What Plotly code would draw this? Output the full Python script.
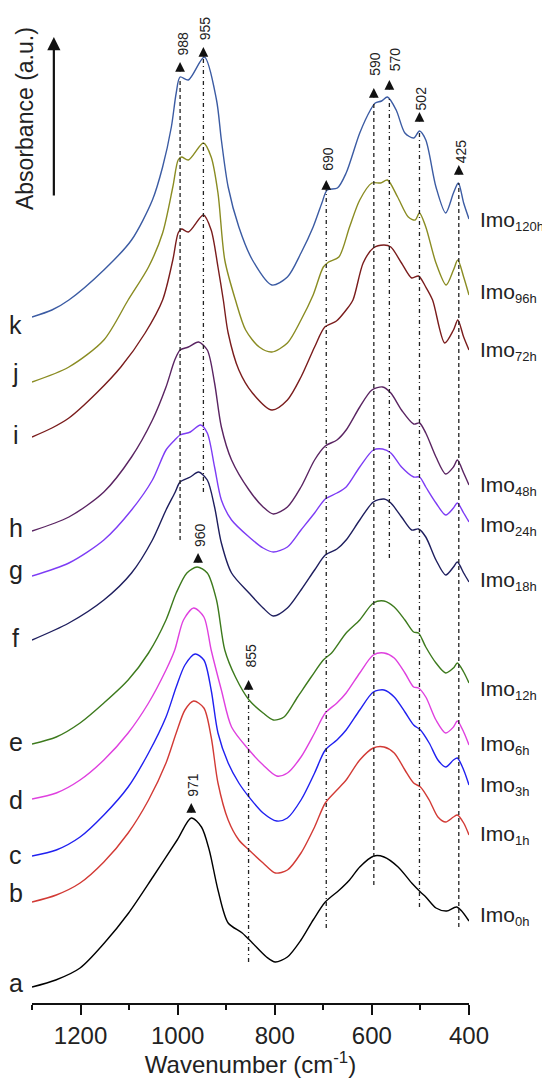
import plotly.graph_objects as go

# ---------------- data (wavenumber in cm-1, stacked absorbance in a.u.) ----------------
wn_a = [1300,1251,1201,1151,1101,1051,1001,972,951,935,917,896,867,846,817,799,774,746,721,696,667,646,625,596,575,546,518,500,489,468,446,425,400]
ab_a = [0.16,0.23,0.35,0.60,0.90,1.26,1.63,1.85,1.76,1.53,1.13,0.80,0.70,0.60,0.46,0.41,0.46,0.63,0.83,1.01,1.13,1.23,1.36,1.47,1.46,1.36,1.20,1.11,1.06,0.95,0.92,0.96,0.82]

wn_b = [1300,1250,1201,1152,1102,1060,1024,1003,985,967,946,931,917,896,874,853,824,799,774,746,718,696,672,653,625,597,575,554,532,514,500,482,464,448,432,424,411,400]
ab_b = [1.01,1.08,1.20,1.41,1.70,2.03,2.40,2.70,2.93,3.02,2.95,2.66,2.20,1.83,1.63,1.53,1.40,1.30,1.33,1.50,1.76,2.00,2.13,2.23,2.43,2.55,2.56,2.50,2.33,2.20,2.16,2.03,1.86,1.81,1.86,1.88,1.80,1.68]

wn_c = [1300,1250,1201,1152,1102,1060,1024,1003,985,964,946,931,917,896,874,853,824,796,774,746,718,696,672,653,625,597,575,554,532,514,500,482,464,448,432,424,411,400]
ab_c = [1.47,1.53,1.66,1.88,2.16,2.50,2.86,3.16,3.38,3.49,3.43,3.13,2.70,2.40,2.20,2.06,1.90,1.82,1.85,2.03,2.30,2.53,2.63,2.73,2.93,3.11,3.13,3.06,2.91,2.78,2.73,2.60,2.43,2.36,2.43,2.45,2.33,2.18]

wn_d = [1300,1250,1201,1152,1102,1060,1024,1006,988,967,946,931,910,889,853,824,796,774,746,718,696,672,653,625,597,575,554,532,514,504,489,468,448,432,424,411,400]
ab_d = [2.04,2.10,2.23,2.43,2.70,3.00,3.33,3.53,3.83,3.95,3.86,3.53,3.13,2.76,2.53,2.38,2.27,2.30,2.46,2.70,2.90,3.00,3.10,3.30,3.48,3.50,3.45,3.30,3.16,3.15,3.06,2.83,2.70,2.76,2.82,2.71,2.58]

wn_e = [1300,1250,1201,1152,1102,1060,1024,1003,981,960,939,920,903,881,853,824,803,781,753,725,700,683,653,625,597,575,554,532,514,504,489,468,448,432,424,411,400]
ab_e = [2.59,2.66,2.80,3.00,3.23,3.50,3.83,4.10,4.30,4.36,4.30,4.03,3.53,3.26,3.03,2.90,2.83,2.86,3.06,3.26,3.43,3.50,3.70,3.83,4.00,4.02,3.96,3.83,3.71,3.70,3.56,3.40,3.30,3.35,3.40,3.31,3.20]

wn_f = [1300,1224,1152,1095,1052,1024,1006,995,974,957,939,924,910,889,853,824,803,774,746,718,696,672,653,625,597,575,561,539,518,504,489,468,448,432,424,411,400]
ab_f = [3.63,3.80,4.03,4.30,4.63,4.93,5.10,5.21,5.26,5.31,5.23,4.96,4.60,4.30,4.10,3.95,3.87,3.95,4.13,4.33,4.48,4.54,4.63,4.83,5.01,5.04,5.00,4.86,4.73,4.74,4.66,4.43,4.28,4.36,4.41,4.30,4.21]

wn_g = [1300,1224,1152,1095,1052,1024,1006,995,974,953,939,924,910,889,853,824,803,774,746,718,696,672,653,625,597,578,561,539,514,502,489,468,448,432,424,411,400]
ab_g = [4.27,4.40,4.63,4.93,5.23,5.53,5.63,5.68,5.71,5.78,5.70,5.36,5.03,4.83,4.66,4.55,4.51,4.56,4.73,4.90,5.04,5.10,5.16,5.36,5.53,5.54,5.50,5.36,5.26,5.26,5.16,5.00,4.88,4.95,5.00,4.90,4.81]

wn_h = [1300,1224,1152,1095,1052,1024,1006,995,978,957,939,924,910,889,853,824,803,774,746,718,696,672,653,625,600,578,561,539,514,502,489,468,448,432,424,411,400]
ab_h = [4.72,4.86,5.11,5.46,5.83,6.16,6.43,6.53,6.56,6.61,6.53,6.20,5.76,5.43,5.13,4.96,4.89,4.96,5.16,5.43,5.57,5.63,5.73,5.96,6.13,6.16,6.10,5.93,5.79,5.80,5.70,5.46,5.29,5.36,5.43,5.30,5.18]

wn_i = [1300,1259,1224,1167,1117,1067,1031,1010,999,992,978,947,931,917,906,896,874,846,806,774,746,718,697,673,653,639,618,597,575,561,539,518,504,489,475,450,432,423,411,400]
ab_i = [5.66,5.75,5.85,6.10,6.36,6.70,7.03,7.43,7.70,7.74,7.71,7.88,7.73,7.36,7.03,6.70,6.33,6.10,5.93,6.03,6.26,6.56,6.76,6.82,6.93,7.03,7.40,7.55,7.58,7.56,7.40,7.25,7.27,7.16,7.03,6.60,6.73,6.83,6.66,6.53]

wn_j = [1300,1224,1152,1102,1060,1031,1010,999,992,978,947,931,917,903,881,860,832,806,774,746,721,700,689,668,646,625,600,582,568,547,525,511,502,489,468,447,432,423,411,400]
ab_j = [6.21,6.36,6.63,7.03,7.36,7.70,8.16,8.43,8.46,8.43,8.60,8.46,8.10,7.43,7.03,6.73,6.56,6.51,6.60,6.83,7.08,7.36,7.41,7.46,7.76,8.03,8.20,8.20,8.23,8.06,7.86,7.83,7.90,7.76,7.40,7.18,7.33,7.43,7.26,7.08]

wn_k = [1300,1259,1224,1152,1095,1052,1031,1013,1003,995,978,945,920,910,896,874,846,806,774,746,721,703,692,671,653,625,603,593,580,568,550,532,514,502,489,468,448,432,422,411,400]
ab_k = [6.86,6.93,7.03,7.33,7.63,8.03,8.36,8.76,9.10,9.26,9.23,9.46,9.03,8.63,8.16,7.76,7.43,7.18,7.26,7.50,7.76,8.00,8.13,8.15,8.30,8.70,8.93,9.00,9.02,9.06,8.93,8.70,8.65,8.72,8.63,8.16,7.90,8.10,8.20,8.00,7.84]

letters = ["a","b","c","d","e","f","g","h","i","j","k"]
times = ["0h","1h","3h","6h","12h","18h","24h","48h","72h","96h","120h"]
wavenumbers = [wn_a, wn_b, wn_c, wn_d, wn_e, wn_f, wn_g, wn_h, wn_i, wn_j, wn_k]
absorbances = [ab_a, ab_b, ab_c, ab_d, ab_e, ab_f, ab_g, ab_h, ab_i, ab_j, ab_k]

# marked band positions (as drawn) and their labels
band_pos = [995, 947, 694, 596, 564, 502, 421, 854]
band_label = ["988", "955", "690", "590", "570", "502", "425", "855"]
band_top = [9.25, 9.45, 8.13, 9.00, 9.06, 8.72, 8.20, 3.11]
band_bottom = [4.63, 5.11, 0.75, 1.18, 4.45, 0.96, 0.76, 0.41]
extra_pos = [958, 972]
extra_label = ["960", "971"]

# ---------------- styling ----------------
colors = ["#000000", "#d23a35", "#2020f0", "#df40df", "#3d7a1d", "#1e1e5e",
          "#7d3cf5", "#5a2462", "#7a1c1c", "#8a8c22", "#3b5ba3"]
band_dash = ["4px,3px", "4px,3px,1px,3px", "4px,3px,1px,3px", "4px,3px",
             "4px,3px,1px,3px", "4px,3px,1px,3px", "4px,3px", "4px,3px,1px,3px"]
band_tip = [9.41, 9.56, 8.23, 9.15, 9.23, 8.91, 8.38, 3.23]
band_text_xy = [(990, 9.59), (943, 9.75), (691, 8.44), (594, 9.39), (552, 9.44),
                (498, 9.05), (416, 8.52), (848, 3.48)]
extra_tip = [4.50, 2.00]
extra_text_xy = [(954, 4.68), (969, 2.18)]
letter_y = [0.20, 1.10, 1.48, 2.03, 2.61, 3.65, 4.33, 4.75, 5.68, 6.30, 6.78]
label_y = [0.87, 1.68, 2.17, 2.58, 3.13, 4.22, 4.77, 5.17, 6.52, 7.10, 7.82]

FONT = "Liberation Sans, Arial, sans-serif"

fig = go.Figure()
for wn, ab, col, t in zip(wavenumbers, absorbances, colors, times):
    fig.add_trace(go.Scatter(x=wn, y=ab, mode="lines", name="Imo" + t,
                             line=dict(color=col, width=1.4, shape="spline", smoothing=0.8),
                             showlegend=False, hoverinfo="skip"))

shapes = []
for p, t, b, d in zip(band_pos, band_top, band_bottom, band_dash):
    shapes.append(dict(type="line", xref="x", yref="y", x0=p, x1=p, y0=b, y1=t,
                       line=dict(color="#222222", width=1.3, dash=d)))

ann = []
def up_arrow(x, y, length=11, width=1.3, size=1.5):
    ann.append(dict(x=x, y=y, xref="x", yref="y", ax=0, ay=length, axref="pixel", ayref="pixel",
                    text="", showarrow=True, arrowhead=2, arrowsize=size, arrowwidth=width,
                    arrowcolor="#111111", standoff=0, startstandoff=0))

for p, tip, lab, (tx, ty) in zip(band_pos, band_tip, band_label, band_text_xy):
    up_arrow(p, tip)
    ann.append(dict(x=tx, y=ty, xref="x", yref="y", text=lab, showarrow=False, textangle=-90,
                    xanchor="center", yanchor="middle",
                    font=dict(family=FONT, size=14, color="#222222")))
for p, tip, lab, (tx, ty) in zip(extra_pos, extra_tip, extra_label, extra_text_xy):
    up_arrow(p, tip)
    ann.append(dict(x=tx, y=ty, xref="x", yref="y", text=lab, showarrow=False, textangle=-90,
                    xanchor="center", yanchor="middle",
                    font=dict(family=FONT, size=14, color="#222222")))

# side texts: horizontal position in paper units (plot spans x=32..469 px)
for l, y in zip(letters, letter_y):
    ann.append(dict(x=-0.037, y=y, xref="paper", yref="y", text=l, showarrow=False,
                    xanchor="center", yanchor="middle",
                    font=dict(family=FONT, size=25, color="#222222")))
for t, y in zip(times, label_y):
    ann.append(dict(x=1.021, y=y, xref="paper", yref="y", xanchor="left", yanchor="middle",
                    text="Imo<sub><span style='font-size:13px'>" + t + "</span></sub>",
                    showarrow=False,
                    font=dict(family=FONT, size=21, color="#222222")))

# y-axis title with arrow
ann.append(dict(x=-0.016, y=8.84, xref="paper", yref="y", text="Absorbance (a.u.)", showarrow=False,
                xanchor="center", yanchor="middle",
                textangle=-90, font=dict(family=FONT, size=23, color="#222222")))
ann.append(dict(x=1255, y=9.66, xref="x", yref="y", ax=0, ay=160, axref="pixel", ayref="pixel",
                text="", showarrow=True, arrowhead=2, arrowsize=1.2, arrowwidth=2.2,
                arrowcolor="#111111", standoff=0, startstandoff=0))

fig.update_layout(
    width=542, height=1078,
    margin=dict(l=32, r=73, t=0, b=75),
    paper_bgcolor="white", plot_bgcolor="white",
    shapes=shapes, annotations=ann,
    xaxis=dict(range=[1300, 400], showgrid=False, zeroline=False,
               showline=True, linecolor="#111111", linewidth=2,
               ticks="outside", ticklen=10, tickwidth=2, tickcolor="#111111",
               tickmode="array", tickvals=[1200, 1000, 800, 600, 400],
               ticktext=["1200", "1000", "800", "600", "400"],
               minor=dict(tickmode="array", tickvals=[1300, 1100, 900, 700, 500],
                          ticks="outside", ticklen=5, tickwidth=2, tickcolor="#111111"),
               tickfont=dict(family=FONT, size=24, color="#222222"),
               title=dict(text="Wavenumber (cm<sup>-1</sup>)", standoff=6,
                          font=dict(family=FONT, size=24, color="#222222"))),
    yaxis=dict(range=[0, 10.03], visible=False),
)

fig.write_html("out.html", config={"displayModeBar": False},
               post_script="document.body.style.margin='0px';")
